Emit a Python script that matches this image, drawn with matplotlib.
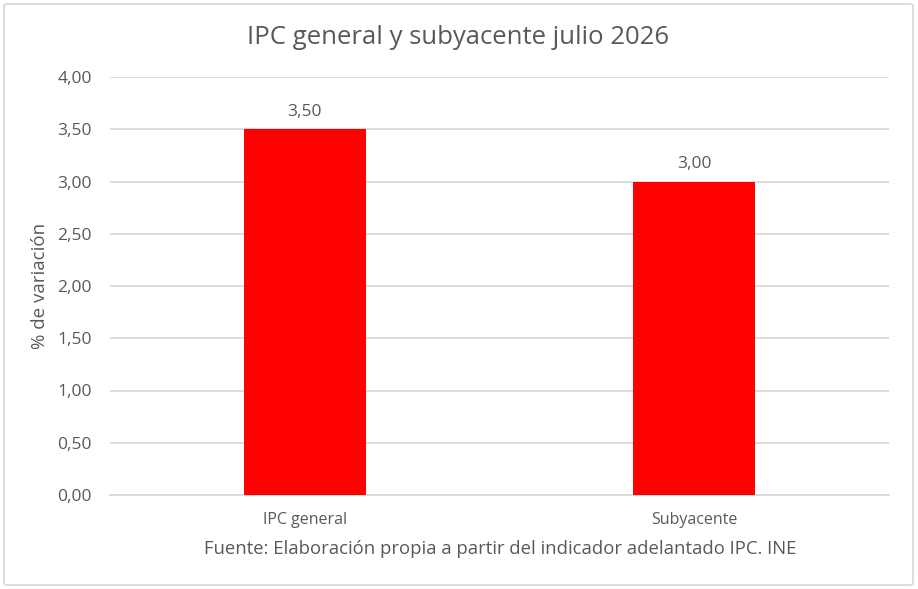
import matplotlib
matplotlib.use("Agg")
import matplotlib.pyplot as plt
from matplotlib.patches import FancyBboxPatch
from matplotlib.ticker import FuncFormatter

categories = ["IPC general", "Subyacente"]
values = [3.50, 3.00]
yticks = [0.0, 0.5, 1.0, 1.5, 2.0, 2.5, 3.0, 3.5, 4.0]

title = "IPC general y subyacente julio 2026"
ylabel = "% de variación"
source = "Fuente: Elaboración propia a partir del indicador adelantado IPC. INE"

plt.rcParams['font.family'] = ['Open Sans', 'DejaVu Sans']
txt = "#595959"
grid = "#d9d9d9"

fig = plt.figure(figsize=(9.18, 5.89), dpi=100)
fig.patch.set_facecolor("white")
border = FancyBboxPatch((4/918, 4/589), 909/918, 581/589,
                        boxstyle="round,pad=0,rounding_size=0.004",
                        transform=fig.transFigure, facecolor="none",
                        edgecolor=grid, linewidth=1.3, zorder=-1)
fig.patches.append(border)

ax = fig.add_axes([110/918, 1-495/589, 779/918, 418/589])
ax.set_facecolor("none")
x = list(range(len(categories)))
bars = ax.bar(x, values, width=0.313, color="#ff0000", zorder=3)
ax.set_xlim(-0.5, len(categories)-0.5)
ax.set_ylim(0, 4.0)
ax.set_yticks(yticks)
ax.yaxis.set_major_formatter(FuncFormatter(lambda v, p: f"{v:.2f}".replace(".", ",")))
ax.set_xticks(x)
ax.set_xticklabels(categories)
ax.grid(axis="y", color=grid, linewidth=1.3, zorder=0)
for s in ["top", "right", "left"]:
    ax.spines[s].set_visible(False)
ax.spines["bottom"].set_color(grid)
ax.spines["bottom"].set_linewidth(1.3)
ax.tick_params(axis="both", length=0, colors=txt)
ax.tick_params(axis="y", pad=13, labelsize=12.5)
ax.tick_params(axis="x", pad=12, labelsize=11.5)
for lab in ax.get_xticklabels() + ax.get_yticklabels():
    lab.set_color(txt)

for xi, v in zip(x, values):
    ax.annotate(f"{v:.2f}".replace(".", ","), (xi, v), xytext=(0, 7),
                textcoords="offset points", ha="center", va="bottom",
                color=txt, fontsize=12.5)

ax.set_ylabel(ylabel, color=txt, fontsize=13.5)
ax.yaxis.set_label_coords(-61/779, 0.5)

fig.text(458/918, 1-38/589, title, ha="center", va="center",
         color=txt, fontsize=18.5)
fig.text(500/918, 1-549/589, source, ha="center", va="center",
         color=txt, fontsize=13.3)

fig.savefig("out.png", dpi=100)
